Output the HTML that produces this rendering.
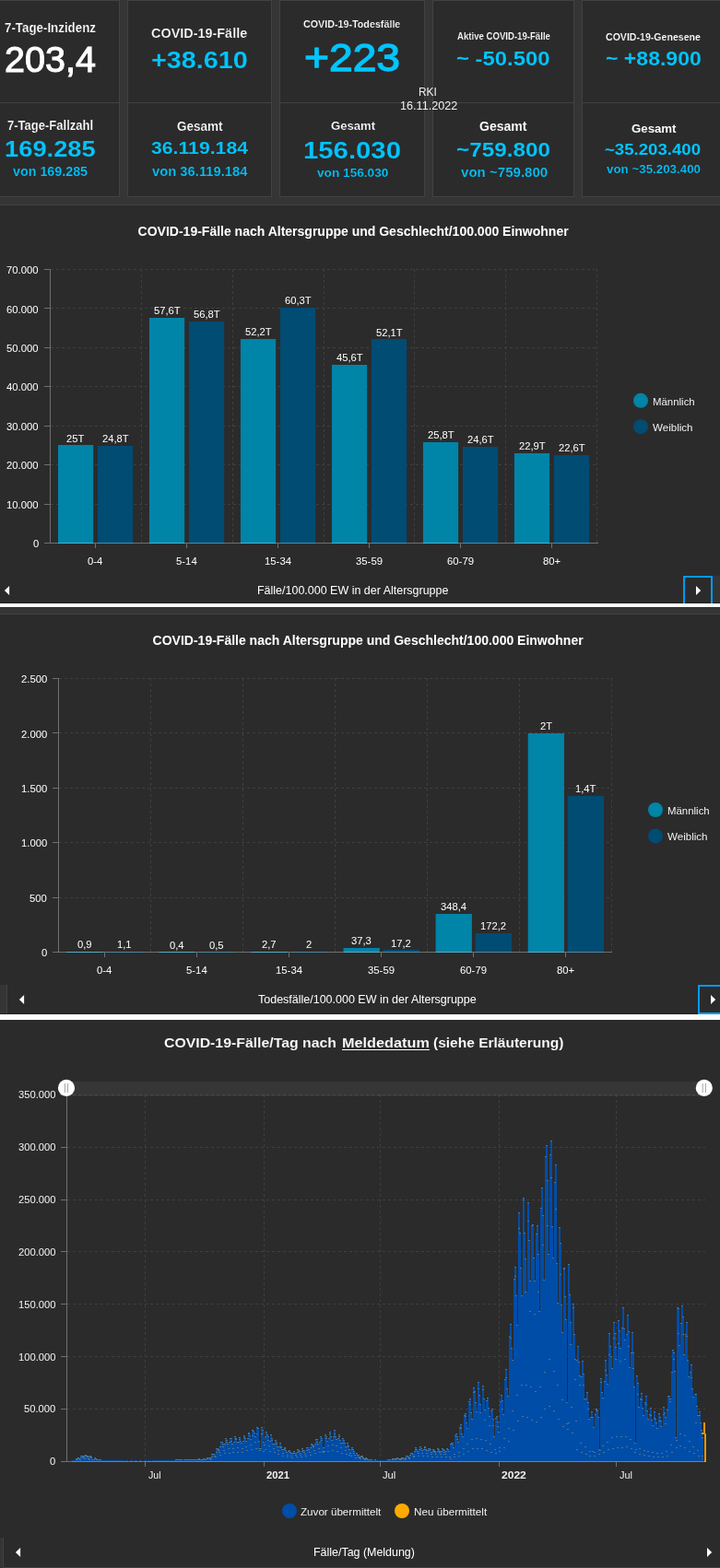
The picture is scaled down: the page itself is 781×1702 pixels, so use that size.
<!DOCTYPE html>
<html lang="de">
<head>
<meta charset="utf-8">
<title>COVID-19 Dashboard</title>
<style>
html,body{margin:0;padding:0;background:#353535;}
body{width:781px;height:1702px;position:relative;overflow:hidden;font-family:"Liberation Sans",sans-serif;}
.t{position:absolute;white-space:nowrap;line-height:1;transform-origin:0 0;}
.b{position:absolute;display:block;}
.panel{position:absolute;left:0;width:781px;background:#2b2b2b;box-sizing:border-box;}
.tile{position:absolute;background:#2b2b2b;border:1px solid #424242;box-sizing:border-box;}
.btn{border:2px solid #009af2;box-sizing:border-box;z-index:2;}
.ttl{margin:0;padding:0;font-weight:400;font-size:inherit;position:static;}
svg .g{stroke:#3f3f3f;stroke-width:1;stroke-dasharray:3 3;fill:none;shape-rendering:crispEdges;}
svg .a{stroke:#ffffff;stroke-opacity:0.33;stroke-width:1;fill:none;shape-rendering:crispEdges;}
svg .a2{stroke:#ffffff;stroke-opacity:0.33;stroke-width:1;fill:none;shape-rendering:crispEdges;}
</style>
</head>
<body>
<section class="tiles">
<div class="tile" style="left:-30px;top:0;width:160px;height:112px"></div>
<div class="tile" style="left:-30px;top:111px;width:160px;height:103px"></div>
<div class="tile" style="left:138px;top:0;width:157px;height:112px"></div>
<div class="tile" style="left:138px;top:111px;width:157px;height:103px"></div>
<div class="tile" style="left:303px;top:0;width:158px;height:112px"></div>
<div class="tile" style="left:303px;top:111px;width:158px;height:103px"></div>
<div class="tile" style="left:469px;top:0;width:154px;height:112px"></div>
<div class="tile" style="left:469px;top:111px;width:154px;height:103px"></div>
<div class="tile" style="left:631px;top:0;width:160px;height:112px"></div>
<div class="tile" style="left:631px;top:111px;width:160px;height:103px"></div>
<div class="t" style="left:5.00px;top:23.07px;font-size:14.10px;color:#ffffff;font-weight:700;-webkit-text-stroke:0.23px #2b2b2b;transform:scaleX(0.9456);">7-Tage-Inzidenz</div>
<div class="t" style="left:5.00px;top:44.83px;font-size:39.53px;color:#ffffff;-webkit-text-stroke:1.11px #ffffff;">203,4</div>
<div class="t" style="left:8.30px;top:130.29px;font-size:13.95px;color:#ffffff;font-weight:700;-webkit-text-stroke:0.22px #2b2b2b;transform:scaleX(0.9343);">7-Tage-Fallzahl</div>
<div class="t" style="left:4.60px;top:150.23px;font-size:24.42px;color:#00c5ff;font-weight:700;-webkit-text-stroke:0.10px #2b2b2b;transform:scaleX(1.1193);">169.285</div>
<div class="t" style="left:14.10px;top:179.34px;font-size:14.24px;color:#00c5ff;font-weight:700;-webkit-text-stroke:0.23px #2b2b2b;transform:scaleX(1.0042);">von 169.285</div>
<div class="t" style="left:164.20px;top:28.80px;font-size:14.53px;color:#ffffff;font-weight:700;-webkit-text-stroke:0.23px #2b2b2b;transform:scaleX(0.9933);">COVID-19-Fälle</div>
<div class="t" style="left:163.80px;top:53.44px;font-size:25.00px;color:#00c5ff;font-weight:700;-webkit-text-stroke:0.10px #2b2b2b;transform:scaleX(1.1518);">+38.610</div>
<div class="t" style="left:192.00px;top:129.74px;font-size:14.24px;color:#ffffff;font-weight:700;-webkit-text-stroke:0.23px #2b2b2b;transform:scaleX(0.9493);">Gesamt</div>
<div class="t" style="left:163.70px;top:152.21px;font-size:18.90px;color:#00c5ff;font-weight:700;-webkit-text-stroke:0.08px #2b2b2b;transform:scaleX(1.1226);">36.119.184</div>
<div class="t" style="left:165.00px;top:179.34px;font-size:14.24px;color:#00c5ff;font-weight:700;-webkit-text-stroke:0.23px #2b2b2b;transform:scaleX(1.0373);">von 36.119.184</div>
<div class="t" style="left:329.20px;top:20.33px;font-size:11.77px;color:#ffffff;font-weight:700;-webkit-text-stroke:0.19px #2b2b2b;transform:scaleX(0.9119);">COVID-19-Todesfälle</div>
<div class="t" style="left:329.80px;top:41.33px;font-size:43.31px;color:#00c5ff;-webkit-text-stroke:1.30px #00c5ff;transform:scaleX(1.0662);">+223</div>
<div class="t" style="left:358.60px;top:129.66px;font-size:13.52px;color:#ffffff;font-weight:700;-webkit-text-stroke:0.22px #2b2b2b;transform:scaleX(0.9681);">Gesamt</div>
<div class="t" style="left:328.60px;top:149.85px;font-size:26.16px;color:#00c5ff;font-weight:700;-webkit-text-stroke:0.10px #2b2b2b;transform:scaleX(1.1208);">156.030</div>
<div class="t" style="left:343.60px;top:180.93px;font-size:13.08px;color:#00c5ff;font-weight:700;-webkit-text-stroke:0.21px #2b2b2b;transform:scaleX(1.0435);">von 156.030</div>
<div class="t" style="left:496.10px;top:34.32px;font-size:10.61px;color:#ffffff;font-weight:700;-webkit-text-stroke:0.17px #2b2b2b;transform:scaleX(0.9054);">Aktive COVID-19-Fälle</div>
<div class="t" style="left:495.30px;top:52.70px;font-size:22.09px;color:#00c5ff;font-weight:700;-webkit-text-stroke:0.09px #2b2b2b;transform:scaleX(1.0802);">~ -50.500</div>
<div class="t" style="left:520.40px;top:130.79px;font-size:13.95px;color:#ffffff;font-weight:700;-webkit-text-stroke:0.06px #2b2b2b;transform:scaleX(1.0082);">Gesamt</div>
<div class="t" style="left:494.80px;top:151.55px;font-size:22.38px;color:#00c5ff;font-weight:700;-webkit-text-stroke:0.09px #2b2b2b;transform:scaleX(1.0852);">~759.800</div>
<div class="t" style="left:499.50px;top:180.03px;font-size:14.97px;color:#00c5ff;font-weight:700;-webkit-text-stroke:0.24px #2b2b2b;transform:scaleX(1.0061);">von ~759.800</div>
<div class="t" style="left:657.00px;top:35.76px;font-size:10.32px;color:#ffffff;font-weight:700;-webkit-text-stroke:0.17px #2b2b2b;transform:scaleX(1.0262);">COVID-19-Genesene</div>
<div class="t" style="left:656.80px;top:53.44px;font-size:21.22px;color:#00c5ff;font-weight:700;-webkit-text-stroke:0.08px #2b2b2b;transform:scaleX(1.0860);">~ +88.900</div>
<div class="t" style="left:684.50px;top:133.16px;font-size:13.52px;color:#ffffff;font-weight:700;-webkit-text-stroke:0.05px #2b2b2b;transform:scaleX(0.9782);">Gesamt</div>
<div class="t" style="left:656.40px;top:153.98px;font-size:17.15px;color:#00c5ff;font-weight:700;transform:scaleX(1.0860);">~35.203.400</div>
<div class="t" style="left:658.00px;top:177.23px;font-size:13.08px;color:#00c5ff;font-weight:700;-webkit-text-stroke:0.21px #2b2b2b;transform:scaleX(1.0199);">von ~35.203.400</div>
<div class="t" style="left:454.30px;top:92.54px;font-size:13.30px;color:#f0f0f0;transform:scaleX(0.8931);">RKI</div>
<div class="t" style="left:434.00px;top:108.34px;font-size:13.30px;color:#f0f0f0;transform:scaleX(0.9500);">16.11.2022</div>
</section>
<section class="panel" style="top:222px;height:433px;border-top:1px solid #424242"></section>
<div class="b" style="left:773px;top:625px;width:8px;height:30px;background:#353535;"></div>
<svg class="b" style="left:0;top:222px" width="781" height="440" viewBox="0 222 781 440"><line x1="55" x2="649" y1="547.5" y2="547.5" class="g"/><line x1="55" x2="649" y1="504.5" y2="504.5" class="g"/><line x1="55" x2="649" y1="462.5" y2="462.5" class="g"/><line x1="55" x2="649" y1="419.5" y2="419.5" class="g"/><line x1="55" x2="649" y1="377.5" y2="377.5" class="g"/><line x1="55" x2="649" y1="334.5" y2="334.5" class="g"/><line x1="55" x2="649" y1="292.5" y2="292.5" class="g"/><line x1="153.5" x2="153.5" y1="292" y2="589" class="g"/><line x1="252.5" x2="252.5" y1="292" y2="589" class="g"/><line x1="351.5" x2="351.5" y1="292" y2="589" class="g"/><line x1="449.5" x2="449.5" y1="292" y2="589" class="g"/><line x1="548.5" x2="548.5" y1="292" y2="589" class="g"/><line x1="647.5" x2="647.5" y1="292" y2="589" class="g"/><rect x="62.99" y="483.00" width="38.20" height="107.00" fill="#0084a8"/><rect x="105.99" y="484.00" width="38.20" height="106.00" fill="#004c73"/><rect x="161.97" y="345.00" width="38.20" height="245.00" fill="#0084a8"/><rect x="204.97" y="349.00" width="38.20" height="241.00" fill="#004c73"/><rect x="260.96" y="368.00" width="38.20" height="222.00" fill="#0084a8"/><rect x="303.96" y="334.00" width="38.20" height="256.00" fill="#004c73"/><rect x="359.94" y="396.00" width="38.20" height="194.00" fill="#0084a8"/><rect x="402.94" y="368.00" width="38.20" height="222.00" fill="#004c73"/><rect x="458.93" y="480.00" width="38.20" height="110.00" fill="#0084a8"/><rect x="501.93" y="485.00" width="38.20" height="105.00" fill="#004c73"/><rect x="557.91" y="492.00" width="38.20" height="98.00" fill="#0084a8"/><rect x="600.91" y="494.00" width="38.20" height="96.00" fill="#004c73"/><line x1="48" x2="54" y1="589.5" y2="589.5" class="a"/><line x1="48" x2="54" y1="547.5" y2="547.5" class="a"/><line x1="48" x2="54" y1="504.5" y2="504.5" class="a"/><line x1="48" x2="54" y1="462.5" y2="462.5" class="a"/><line x1="48" x2="54" y1="419.5" y2="419.5" class="a"/><line x1="48" x2="54" y1="377.5" y2="377.5" class="a"/><line x1="48" x2="54" y1="334.5" y2="334.5" class="a"/><line x1="48" x2="54" y1="292.5" y2="292.5" class="a"/><line x1="54.5" x2="54.5" y1="292" y2="589" class="a"/><line x1="54" x2="649" y1="589.5" y2="589.5" class="a"/><line x1="103.5" x2="103.5" y1="590" y2="595" class="a"/><line x1="202.5" x2="202.5" y1="590" y2="595" class="a"/><line x1="301.5" x2="301.5" y1="590" y2="595" class="a"/><line x1="400.5" x2="400.5" y1="590" y2="595" class="a"/><line x1="499.5" x2="499.5" y1="590" y2="595" class="a"/><line x1="598.5" x2="598.5" y1="590" y2="595" class="a"/><circle cx="695" cy="434.8" r="8" fill="#0084a8"/><circle cx="695" cy="463.2" r="8" fill="#004c73"/></svg>
<div class="t" style="left:149.60px;top:243.75px;font-size:14.00px;color:#ffffff;font-weight:700;">COVID-19-Fälle nach Altersgruppe und Geschlecht/100.000 Einwohner</div>
<div class="t" style="left:35.53px;top:585.19px;font-size:11.00px;color:#ffffff;transform:scaleX(1.0250);">0</div>
<div class="t" style="left:7.31px;top:542.76px;font-size:11.00px;color:#ffffff;transform:scaleX(1.0250);">10.000</div>
<div class="t" style="left:7.31px;top:500.33px;font-size:11.00px;color:#ffffff;transform:scaleX(1.0250);">20.000</div>
<div class="t" style="left:7.31px;top:457.90px;font-size:11.00px;color:#ffffff;transform:scaleX(1.0250);">30.000</div>
<div class="t" style="left:7.31px;top:415.47px;font-size:11.00px;color:#ffffff;transform:scaleX(1.0250);">40.000</div>
<div class="t" style="left:7.31px;top:373.05px;font-size:11.00px;color:#ffffff;transform:scaleX(1.0250);">50.000</div>
<div class="t" style="left:7.31px;top:330.62px;font-size:11.00px;color:#ffffff;transform:scaleX(1.0250);">60.000</div>
<div class="t" style="left:7.31px;top:288.19px;font-size:11.00px;color:#ffffff;transform:scaleX(1.0250);">70.000</div>
<div class="t" style="left:95.41px;top:603.89px;font-size:11.00px;color:#ffffff;transform:scaleX(1.0300);">0-4</div>
<div class="t" style="left:72.43px;top:470.52px;font-size:11.00px;color:#ffffff;transform:scaleX(1.0200);">25T</div>
<div class="t" style="left:110.75px;top:471.37px;font-size:11.00px;color:#ffffff;transform:scaleX(1.0200);">24,8T</div>
<div class="t" style="left:191.24px;top:603.89px;font-size:11.00px;color:#ffffff;transform:scaleX(1.0300);">5-14</div>
<div class="t" style="left:166.73px;top:332.20px;font-size:11.00px;color:#ffffff;transform:scaleX(1.0200);">57,6T</div>
<div class="t" style="left:209.73px;top:335.59px;font-size:11.00px;color:#ffffff;transform:scaleX(1.0200);">56,8T</div>
<div class="t" style="left:287.07px;top:603.89px;font-size:11.00px;color:#ffffff;transform:scaleX(1.0300);">15-34</div>
<div class="t" style="left:265.71px;top:355.11px;font-size:11.00px;color:#ffffff;transform:scaleX(1.0200);">52,2T</div>
<div class="t" style="left:308.71px;top:320.74px;font-size:11.00px;color:#ffffff;transform:scaleX(1.0200);">60,3T</div>
<div class="t" style="left:386.05px;top:603.89px;font-size:11.00px;color:#ffffff;transform:scaleX(1.0300);">35-59</div>
<div class="t" style="left:364.70px;top:383.11px;font-size:11.00px;color:#ffffff;transform:scaleX(1.0200);">45,6T</div>
<div class="t" style="left:407.70px;top:355.54px;font-size:11.00px;color:#ffffff;transform:scaleX(1.0200);">52,1T</div>
<div class="t" style="left:485.03px;top:603.89px;font-size:11.00px;color:#ffffff;transform:scaleX(1.0300);">60-79</div>
<div class="t" style="left:463.68px;top:467.12px;font-size:11.00px;color:#ffffff;transform:scaleX(1.0200);">25,8T</div>
<div class="t" style="left:506.68px;top:472.21px;font-size:11.00px;color:#ffffff;transform:scaleX(1.0200);">24,6T</div>
<div class="t" style="left:588.90px;top:603.89px;font-size:11.00px;color:#ffffff;transform:scaleX(1.0300);">80+</div>
<div class="t" style="left:562.66px;top:479.43px;font-size:11.00px;color:#ffffff;transform:scaleX(1.0200);">22,9T</div>
<div class="t" style="left:605.66px;top:480.70px;font-size:11.00px;color:#ffffff;transform:scaleX(1.0200);">22,6T</div>
<div class="t" style="left:707.70px;top:430.56px;font-size:10.80px;color:#f0f0f0;transform:scaleX(1.0573);">Männlich</div>
<div class="t" style="left:707.50px;top:458.86px;font-size:10.80px;color:#f0f0f0;transform:scaleX(1.0709);">Weiblich</div>
<div class="t" style="left:278.80px;top:634.30px;font-size:13.00px;color:#ffffff;transform:scaleX(0.9599);">Fälle/100.000 EW in der Altersgruppe</div>
<svg class="b" style="left:4px;top:635px" width="8" height="12" viewBox="0 0 8 12"><path d="M0.9 6 L6.1 0.9 L6.1 11.1 Z" fill="#fff"/></svg>
<div class="b btn" style="left:741px;top:625px;width:32px;height:32px"></div>
<svg class="b" style="left:753px;top:635px;z-index:3" width="8" height="12" viewBox="0 0 8 12"><path d="M7.2 6 L2.0 0.9 L2.0 11.1 Z" fill="#fff"/></svg>
<div class="b" style="left:0px;top:654px;width:781px;height:1px;background:#202020;"></div>
<div class="b" style="left:0px;top:655px;width:781px;height:4px;background:#ffffff;z-index:4;"></div>
<div class="b" style="left:0px;top:659px;width:781px;height:1px;background:#262626;"></div>
<section class="panel" style="top:666px;height:435px;border-top:1px solid #424242"></section>
<div class="b" style="left:0px;top:1069px;width:7px;height:32px;background:#353535;"></div>
<div class="b" style="left:7px;top:1069px;width:1px;height:32px;background:#424242;"></div>
<svg class="b" style="left:0;top:667px" width="781" height="440" viewBox="0 667 781 440"><line x1="64" x2="664" y1="974.5" y2="974.5" class="g"/><line x1="64" x2="664" y1="914.5" y2="914.5" class="g"/><line x1="64" x2="664" y1="855.5" y2="855.5" class="g"/><line x1="64" x2="664" y1="795.5" y2="795.5" class="g"/><line x1="64" x2="664" y1="736.5" y2="736.5" class="g"/><line x1="163.5" x2="163.5" y1="736" y2="1033" class="g"/><line x1="263.5" x2="263.5" y1="736" y2="1033" class="g"/><line x1="363.5" x2="363.5" y1="736" y2="1033" class="g"/><line x1="463.5" x2="463.5" y1="736" y2="1033" class="g"/><line x1="563.5" x2="563.5" y1="736" y2="1033" class="g"/><line x1="663.5" x2="663.5" y1="736" y2="1033" class="g"/><rect x="72.33" y="1033.00" width="39.30" height="1.00" fill="#0084a8"/><rect x="115.43" y="1033.00" width="39.30" height="1.00" fill="#004c73"/><rect x="172.40" y="1033.00" width="39.30" height="1.00" fill="#0084a8"/><rect x="215.50" y="1033.00" width="39.30" height="1.00" fill="#004c73"/><rect x="272.47" y="1033.00" width="39.30" height="1.00" fill="#0084a8"/><rect x="315.57" y="1033.00" width="39.30" height="1.00" fill="#004c73"/><rect x="372.53" y="1029.00" width="39.30" height="5.00" fill="#0084a8"/><rect x="415.63" y="1031.00" width="39.30" height="3.00" fill="#004c73"/><rect x="472.60" y="992.00" width="39.30" height="42.00" fill="#0084a8"/><rect x="515.70" y="1013.00" width="39.30" height="21.00" fill="#004c73"/><rect x="572.67" y="796.00" width="39.30" height="238.00" fill="#0084a8"/><rect x="615.77" y="864.00" width="39.30" height="170.00" fill="#004c73"/><line x1="57" x2="63" y1="1033.5" y2="1033.5" class="a"/><line x1="57" x2="63" y1="974.5" y2="974.5" class="a"/><line x1="57" x2="63" y1="914.5" y2="914.5" class="a"/><line x1="57" x2="63" y1="855.5" y2="855.5" class="a"/><line x1="57" x2="63" y1="795.5" y2="795.5" class="a"/><line x1="57" x2="63" y1="736.5" y2="736.5" class="a"/><line x1="63.5" x2="63.5" y1="736" y2="1033" class="a"/><line x1="63" x2="664" y1="1033.5" y2="1033.5" class="a"/><line x1="113.5" x2="113.5" y1="1034" y2="1039" class="a"/><line x1="213.5" x2="213.5" y1="1034" y2="1039" class="a"/><line x1="313.5" x2="313.5" y1="1034" y2="1039" class="a"/><line x1="413.5" x2="413.5" y1="1034" y2="1039" class="a"/><line x1="513.5" x2="513.5" y1="1034" y2="1039" class="a"/><line x1="613.5" x2="613.5" y1="1034" y2="1039" class="a"/><circle cx="711" cy="879.0" r="8" fill="#0084a8"/><circle cx="711" cy="907.4" r="8" fill="#004c73"/></svg>
<div class="t" style="left:165.60px;top:687.75px;font-size:14.00px;color:#ffffff;font-weight:700;">COVID-19-Fälle nach Altersgruppe und Geschlecht/100.000 Einwohner</div>
<div class="t" style="left:44.53px;top:1029.19px;font-size:11.00px;color:#ffffff;transform:scaleX(1.0250);">0</div>
<div class="t" style="left:31.99px;top:969.79px;font-size:11.00px;color:#ffffff;transform:scaleX(1.0250);">500</div>
<div class="t" style="left:22.59px;top:910.39px;font-size:11.00px;color:#ffffff;transform:scaleX(1.0250);">1.000</div>
<div class="t" style="left:22.59px;top:850.99px;font-size:11.00px;color:#ffffff;transform:scaleX(1.0250);">1.500</div>
<div class="t" style="left:22.59px;top:791.59px;font-size:11.00px;color:#ffffff;transform:scaleX(1.0250);">2.000</div>
<div class="t" style="left:22.59px;top:732.19px;font-size:11.00px;color:#ffffff;transform:scaleX(1.0250);">2.500</div>
<div class="t" style="left:105.35px;top:1048.19px;font-size:11.00px;color:#ffffff;transform:scaleX(1.0300);">0-4</div>
<div class="t" style="left:84.19px;top:1020.48px;font-size:11.00px;color:#ffffff;transform:scaleX(1.0200);">0,9</div>
<div class="t" style="left:127.29px;top:1020.46px;font-size:11.00px;color:#ffffff;transform:scaleX(1.0200);">1,1</div>
<div class="t" style="left:202.26px;top:1048.19px;font-size:11.00px;color:#ffffff;transform:scaleX(1.0300);">5-14</div>
<div class="t" style="left:184.25px;top:1020.54px;font-size:11.00px;color:#ffffff;transform:scaleX(1.0200);">0,4</div>
<div class="t" style="left:227.35px;top:1020.53px;font-size:11.00px;color:#ffffff;transform:scaleX(1.0200);">0,5</div>
<div class="t" style="left:299.18px;top:1048.19px;font-size:11.00px;color:#ffffff;transform:scaleX(1.0300);">15-34</div>
<div class="t" style="left:284.32px;top:1020.27px;font-size:11.00px;color:#ffffff;transform:scaleX(1.0200);">2,7</div>
<div class="t" style="left:332.10px;top:1020.35px;font-size:11.00px;color:#ffffff;transform:scaleX(1.0200);">2</div>
<div class="t" style="left:399.24px;top:1048.19px;font-size:11.00px;color:#ffffff;transform:scaleX(1.0300);">35-59</div>
<div class="t" style="left:381.27px;top:1016.16px;font-size:11.00px;color:#ffffff;transform:scaleX(1.0200);">37,3</div>
<div class="t" style="left:424.37px;top:1018.55px;font-size:11.00px;color:#ffffff;transform:scaleX(1.0200);">17,2</div>
<div class="t" style="left:499.31px;top:1048.19px;font-size:11.00px;color:#ffffff;transform:scaleX(1.0300);">60-79</div>
<div class="t" style="left:478.21px;top:979.20px;font-size:11.00px;color:#ffffff;transform:scaleX(1.0200);">348,4</div>
<div class="t" style="left:521.31px;top:1000.13px;font-size:11.00px;color:#ffffff;transform:scaleX(1.0200);">172,2</div>
<div class="t" style="left:604.26px;top:1048.19px;font-size:11.00px;color:#ffffff;transform:scaleX(1.0300);">80+</div>
<div class="t" style="left:585.77px;top:782.99px;font-size:11.00px;color:#ffffff;transform:scaleX(1.0200);">2T</div>
<div class="t" style="left:624.19px;top:850.94px;font-size:11.00px;color:#ffffff;transform:scaleX(1.0200);">1,4T</div>
<div class="t" style="left:723.70px;top:874.76px;font-size:10.80px;color:#f0f0f0;transform:scaleX(1.0573);">Männlich</div>
<div class="t" style="left:723.50px;top:903.06px;font-size:10.80px;color:#f0f0f0;transform:scaleX(1.0709);">Weiblich</div>
<div class="t" style="left:280.00px;top:1078.30px;font-size:13.00px;color:#ffffff;transform:scaleX(0.9605);">Todesfälle/100.000 EW in der Altersgruppe</div>
<svg class="b" style="left:20px;top:1079px" width="8" height="12" viewBox="0 0 8 12"><path d="M0.9 6 L6.1 0.9 L6.1 11.1 Z" fill="#fff"/></svg>
<div class="b btn" style="left:757px;top:1069px;width:32px;height:32px"></div>
<svg class="b" style="left:769px;top:1079px;z-index:3" width="8" height="12" viewBox="0 0 8 12"><path d="M7.2 6 L2.0 0.9 L2.0 11.1 Z" fill="#fff"/></svg>
<div class="b" style="left:0px;top:1100px;width:781px;height:1px;background:#202020;"></div>
<div class="b" style="left:0px;top:1101px;width:781px;height:6px;background:#ffffff;z-index:4;"></div>
<div class="b" style="left:0px;top:1107px;width:781px;height:1px;background:#222222;"></div>
<section class="panel" style="top:1107px;height:595px"></section>
<div class="b" style="left:0px;top:1669px;width:3px;height:33px;background:#353535;"></div>
<div class="b" style="left:3px;top:1669px;width:1px;height:33px;background:#424242;"></div>
<div class="b" style="left:4px;top:1701px;width:777px;height:1px;background:#424242;"></div>
<svg class="b" style="left:0;top:1107px" width="781" height="595" viewBox="0 1107 781 595"><line x1="73" x2="765" y1="1529.5" y2="1529.5" class="g"/><line x1="73" x2="765" y1="1472.5" y2="1472.5" class="g"/><line x1="73" x2="765" y1="1415.5" y2="1415.5" class="g"/><line x1="73" x2="765" y1="1358.5" y2="1358.5" class="g"/><line x1="73" x2="765" y1="1302.5" y2="1302.5" class="g"/><line x1="73" x2="765" y1="1245.5" y2="1245.5" class="g"/><line x1="73" x2="765" y1="1188.5" y2="1188.5" class="g"/><line x1="66" x2="72" y1="1586.5" y2="1586.5" class="a"/><line x1="66" x2="72" y1="1529.5" y2="1529.5" class="a"/><line x1="66" x2="72" y1="1472.5" y2="1472.5" class="a"/><line x1="66" x2="72" y1="1415.5" y2="1415.5" class="a"/><line x1="66" x2="72" y1="1358.5" y2="1358.5" class="a"/><line x1="66" x2="72" y1="1302.5" y2="1302.5" class="a"/><line x1="66" x2="72" y1="1245.5" y2="1245.5" class="a"/><line x1="66" x2="72" y1="1188.5" y2="1188.5" class="a"/><line x1="157.5" x2="157.5" y1="1188" y2="1586" class="g"/><line x1="286.5" x2="286.5" y1="1188" y2="1586" class="g"/><line x1="412.5" x2="412.5" y1="1188" y2="1586" class="g"/><line x1="541.5" x2="541.5" y1="1188" y2="1586" class="g"/><line x1="668.5" x2="668.5" y1="1188" y2="1586" class="g"/><path d="M78 1585h4V1587h-4zM82 1583h2V1587h-2zM84 1582h2V1587h-2zM86 1583h1V1587h-1zM87 1580h5V1587h-5zM92 1579h2V1587h-2zM94 1580h2V1587h-2zM96 1581h1V1587h-1zM97 1580h2V1587h-2zM99 1581h1V1587h-1zM100 1584h2V1587h-2zM102 1582h2V1587h-2zM104 1583h1V1587h-1zM105 1584h5V1587h-5zM110 1585h25V1587h-25zM136 1585h3V1587h-3zM141 1585h3V1587h-3zM146 1585h3V1587h-3zM151 1585h3V1587h-3zM156 1585h3V1587h-3zM160 1585h4V1587h-4zM165 1585h25V1587h-25zM190 1584h8V1587h-8zM198 1585h1V1587h-1zM199 1584h16V1587h-16zM215 1583h2V1587h-2zM217 1584h3V1587h-3zM220 1583h3V1587h-3zM223 1584h1V1587h-1zM224 1582h5V1587h-5zM229 1578h5V1587h-5zM234 1572h3V1587h-3zM237 1573h1V1587h-1zM238 1570h1V1587h-1zM239 1565h3V1587h-3zM242 1567h2V1587h-2zM244 1561h2V1587h-2zM246 1563h1V1587h-1zM247 1567h1V1587h-1zM248 1565h1V1587h-1zM249 1561h3V1587h-3zM252 1567h1V1587h-1zM253 1565h1V1587h-1zM254 1559h2V1587h-2zM256 1561h1V1587h-1zM257 1565h2V1587h-2zM259 1560h2V1587h-2zM261 1564h1V1587h-1zM262 1566h1V1587h-1zM263 1564h1V1587h-1zM264 1558h2V1587h-2zM266 1561h1V1587h-1zM267 1564h1V1587h-1zM268 1561h1V1587h-1zM269 1555h2V1587h-2zM271 1558h1V1587h-1zM272 1562h1V1587h-1zM273 1552h2V1587h-2zM275 1553h1V1587h-1zM276 1555h1V1587h-1zM277 1559h1V1587h-1zM278 1549h2V1587h-2zM280 1550h1V1587h-1zM281 1564h1V1587h-1zM282 1572h1V1587h-1zM283 1549h2V1587h-2zM285 1552h1V1587h-1zM286 1565h1V1587h-1zM287 1559h1V1587h-1zM288 1554h2V1587h-2zM290 1557h1V1587h-1zM291 1559h1V1587h-1zM292 1564h1V1587h-1zM293 1557h2V1587h-2zM295 1561h1V1587h-1zM296 1567h2V1587h-2zM298 1563h2V1587h-2zM300 1565h1V1587h-1zM301 1570h2V1587h-2zM303 1566h2V1587h-2zM305 1570h1V1587h-1zM306 1573h2V1587h-2zM308 1571h2V1587h-2zM310 1574h1V1587h-1zM311 1576h1V1587h-1zM312 1575h1V1587h-1zM313 1574h2V1587h-2zM315 1576h1V1587h-1zM316 1577h2V1587h-2zM318 1575h2V1587h-2zM320 1577h2V1587h-2zM322 1573h2V1587h-2zM324 1574h1V1587h-1zM325 1575h1V1587h-1zM326 1577h1V1587h-1zM327 1572h2V1587h-2zM329 1574h2V1587h-2zM331 1576h1V1587h-1zM332 1571h3V1587h-3zM335 1573h1V1587h-1zM336 1571h1V1587h-1zM337 1567h2V1587h-2zM339 1568h1V1587h-1zM340 1569h1V1587h-1zM341 1567h1V1587h-1zM342 1562h3V1587h-3zM345 1567h1V1587h-1zM346 1565h1V1587h-1zM347 1559h2V1587h-2zM349 1561h1V1587h-1zM350 1571h2V1587h-2zM352 1557h2V1587h-2zM354 1559h1V1587h-1zM355 1564h1V1587h-1zM356 1561h1V1587h-1zM357 1554h2V1587h-2zM359 1559h1V1587h-1zM360 1563h1V1587h-1zM361 1559h1V1587h-1zM362 1552h2V1587h-2zM364 1559h1V1587h-1zM365 1562h1V1587h-1zM366 1561h1V1587h-1zM367 1557h2V1587h-2zM369 1563h1V1587h-1zM370 1566h1V1587h-1zM371 1561h2V1587h-2zM373 1563h1V1587h-1zM374 1566h1V1587h-1zM375 1570h1V1587h-1zM376 1566h2V1587h-2zM378 1569h1V1587h-1zM379 1573h2V1587h-2zM381 1571h2V1587h-2zM383 1573h1V1587h-1zM384 1575h1V1587h-1zM385 1579h1V1587h-1zM386 1577h2V1587h-2zM388 1579h2V1587h-2zM390 1581h1V1587h-1zM391 1580h3V1587h-3zM394 1582h1V1587h-1zM395 1583h1V1587h-1zM396 1582h2V1587h-2zM398 1583h1V1587h-1zM399 1584h5V1587h-5zM404 1585h2V1587h-2zM406 1584h2V1587h-2zM408 1585h12V1587h-12zM420 1584h5V1587h-5zM425 1583h5V1587h-5zM430 1582h2V1587h-2zM432 1583h3V1587h-3zM435 1582h3V1587h-3zM438 1583h1V1587h-1zM439 1582h1V1587h-1zM440 1580h3V1587h-3zM443 1581h1V1587h-1zM444 1579h1V1587h-1zM445 1577h3V1587h-3zM448 1578h1V1587h-1zM449 1575h1V1587h-1zM450 1571h2V1587h-2zM452 1573h1V1587h-1zM453 1575h1V1587h-1zM454 1573h1V1587h-1zM455 1570h2V1587h-2zM457 1572h1V1587h-1zM458 1574h1V1587h-1zM459 1573h1V1587h-1zM460 1570h2V1587h-2zM462 1573h1V1587h-1zM463 1574h1V1587h-1zM464 1572h3V1587h-3zM467 1573h1V1587h-1zM468 1576h1V1587h-1zM469 1573h2V1587h-2zM471 1574h1V1587h-1zM472 1575h1V1587h-1zM473 1576h1V1587h-1zM474 1572h2V1587h-2zM476 1573h1V1587h-1zM477 1575h2V1587h-2zM479 1572h2V1587h-2zM481 1573h1V1587h-1zM482 1574h1V1587h-1zM483 1575h1V1587h-1zM484 1572h2V1587h-2zM486 1573h1V1587h-1zM487 1575h1V1587h-1zM488 1567h1V1587h-1zM489 1566h3V1587h-3zM492 1571h1V1587h-1zM493 1558h1V1587h-1zM494 1556h2V1587h-2zM496 1559h1V1587h-1zM497 1565h1V1587h-1zM498 1549h1V1587h-1zM499 1546h2V1587h-2zM501 1556h1V1587h-1zM502 1559h1V1587h-1zM503 1536h1V1587h-1zM504 1534h2V1587h-2zM506 1544h1V1587h-1zM507 1550h1V1587h-1zM508 1521h1V1587h-1zM509 1518h2V1587h-2zM511 1533h1V1587h-1zM512 1540h1V1587h-1zM513 1506h2V1587h-2zM515 1510h1V1587h-1zM516 1522h1V1587h-1zM517 1532h1V1587h-1zM518 1500h2V1587h-2zM520 1514h1V1587h-1zM521 1524h1V1587h-1zM522 1533h1V1587h-1zM523 1504h2V1587h-2zM525 1518h1V1587h-1zM526 1530h1V1587h-1zM527 1520h1V1587h-1zM528 1517h2V1587h-2zM530 1528h1V1587h-1zM531 1537h1V1587h-1zM532 1531h1V1587h-1zM533 1529h2V1587h-2zM535 1540h1V1587h-1zM536 1559h1V1587h-1zM537 1539h1V1587h-1zM538 1537h2V1587h-2zM540 1543h1V1587h-1zM541 1554h1V1587h-1zM542 1521h1V1587h-1zM543 1514h2V1587h-2zM545 1520h1V1587h-1zM546 1535h1V1587h-1zM547 1497h1V1587h-1zM548 1486h2V1587h-2zM550 1507h1V1587h-1zM551 1515h1V1587h-1zM552 1450h1V1587h-1zM553 1437h2V1587h-2zM555 1463h1V1587h-1zM556 1476h1V1587h-1zM557 1388h1V1587h-1zM558 1375h2V1587h-2zM560 1406h1V1587h-1zM561 1438h1V1587h-1zM562 1316h2V1587h-2zM564 1338h1V1587h-1zM565 1376h1V1587h-1zM566 1406h1V1587h-1zM567 1300h2V1587h-2zM569 1338h1V1587h-1zM570 1366h1V1587h-1zM571 1402h1V1587h-1zM572 1305h2V1587h-2zM574 1346h1V1587h-1zM575 1390h1V1587h-1zM576 1330h1V1587h-1zM577 1329h2V1587h-2zM579 1365h1V1587h-1zM580 1390h1V1587h-1zM581 1339h1V1587h-1zM582 1330h2V1587h-2zM584 1361h1V1587h-1zM585 1423h1V1587h-1zM586 1311h1V1587h-1zM587 1289h2V1587h-2zM589 1319h1V1587h-1zM590 1389h1V1587h-1zM591 1255h1V1587h-1zM592 1243h2V1587h-2zM594 1281h1V1587h-1zM595 1361h1V1587h-1zM596 1253h1V1587h-1zM597 1238h2V1587h-2zM599 1331h1V1587h-1zM600 1365h1V1587h-1zM601 1283h1V1587h-1zM602 1264h2V1587h-2zM604 1371h1V1587h-1zM605 1414h1V1587h-1zM606 1332h2V1587h-2zM608 1349h1V1587h-1zM609 1416h1V1587h-1zM610 1446h1V1587h-1zM611 1376h2V1587h-2zM613 1407h1V1587h-1zM614 1432h1V1587h-1zM615 1522h1V1587h-1zM616 1372h2V1587h-2zM618 1405h1V1587h-1zM619 1435h1V1587h-1zM620 1459h1V1587h-1zM621 1415h2V1587h-2zM623 1448h1V1587h-1zM624 1475h1V1587h-1zM625 1476h1V1587h-1zM626 1461h2V1587h-2zM628 1478h1V1587h-1zM629 1493h1V1587h-1zM630 1494h1V1587h-1zM631 1477h2V1587h-2zM633 1491h1V1587h-1zM634 1518h2V1587h-2zM636 1511h2V1587h-2zM638 1522h1V1587h-1zM639 1540h1V1587h-1zM640 1538h1V1587h-1zM641 1532h2V1587h-2zM643 1538h1V1587h-1zM644 1549h1V1587h-1zM645 1535h1V1587h-1zM646 1529h2V1587h-2zM648 1531h1V1587h-1zM649 1538h1V1587h-1zM650 1573h1V1587h-1zM651 1496h2V1587h-2zM653 1511h1V1587h-1zM654 1517h1V1587h-1zM655 1499h1V1587h-1zM656 1476h2V1587h-2zM658 1492h1V1587h-1zM659 1502h1V1587h-1zM660 1447h2V1587h-2zM662 1461h1V1587h-1zM663 1472h1V1587h-1zM664 1485h1V1587h-1zM665 1435h2V1587h-2zM667 1447h1V1587h-1zM668 1462h1V1587h-1zM669 1475h1V1587h-1zM670 1433h2V1587h-2zM672 1444h1V1587h-1zM673 1463h1V1587h-1zM674 1441h1V1587h-1zM675 1419h2V1587h-2zM677 1442h1V1587h-1zM678 1454h1V1587h-1zM679 1448h1V1587h-1zM680 1427h2V1587h-2zM682 1445h1V1587h-1zM683 1484h1V1587h-1zM684 1468h1V1587h-1zM685 1446h2V1587h-2zM687 1468h1V1587h-1zM688 1505h1V1587h-1zM689 1566h1V1587h-1zM690 1493h2V1587h-2zM692 1501h1V1587h-1zM693 1527h1V1587h-1zM694 1518h1V1587h-1zM695 1512h2V1587h-2zM697 1528h1V1587h-1zM698 1536h1V1587h-1zM699 1522h1V1587h-1zM700 1515h2V1587h-2zM702 1531h1V1587h-1zM703 1540h1V1587h-1zM704 1535h1V1587h-1zM705 1528h2V1587h-2zM707 1541h1V1587h-1zM708 1547h1V1587h-1zM709 1532h2V1587h-2zM711 1540h1V1587h-1zM712 1544h1V1587h-1zM713 1550h1V1587h-1zM714 1534h2V1587h-2zM716 1538h1V1587h-1zM717 1542h1V1587h-1zM718 1548h1V1587h-1zM719 1527h2V1587h-2zM721 1533h1V1587h-1zM722 1538h1V1587h-1zM723 1530h1V1587h-1zM724 1515h3V1587h-3zM727 1518h1V1587h-1zM728 1489h1V1587h-1zM729 1465h2V1587h-2zM731 1468h1V1587h-1zM732 1488h1V1587h-1zM733 1560h1V1587h-1zM734 1419h2V1587h-2zM736 1420h1V1587h-1zM737 1460h1V1587h-1zM738 1436h1V1587h-1zM739 1417h2V1587h-2zM741 1429h1V1587h-1zM742 1470h1V1587h-1zM743 1448h1V1587h-1zM744 1435h2V1587h-2zM746 1476h1V1587h-1zM747 1494h1V1587h-1zM748 1489h1V1587h-1zM749 1481h2V1587h-2zM751 1507h1V1587h-1zM752 1516h1V1587h-1zM753 1513h3V1587h-3zM756 1526h1V1587h-1zM757 1536h1V1587h-1zM758 1532h2V1587h-2zM760 1544h1V1587h-1zM761 1552h1V1587h-1zM762 1560h1V1587h-1z" fill="#004da8" shape-rendering="crispEdges"/><path d="M597 1238h2v1h-2zM592 1243h2v1h-2zM596 1253h2v1h-2zM591 1255h2v1h-2zM602 1264h2v1h-2zM597 1278h2v1h-2zM593 1281h2v1h-2zM601 1283h2v1h-2zM587 1289h2v1h-2zM567 1300h2v1h-2zM567 1302h2v1h-2zM572 1305h2v1h-2zM586 1311h2v1h-2zM602 1312h2v1h-2zM562 1316h2v1h-2zM588 1319h2v1h-2zM572 1325h2v1h-2zM577 1329h2v1h-2zM576 1330h2v1h-2zM582 1330h2v1h-2zM593 1330h2v1h-2zM598 1331h2v1h-2zM606 1332h2v1h-2zM562 1333h2v1h-2zM563 1338h2v1h-2zM568 1338h2v1h-2zM581 1339h2v1h-2zM573 1346h2v1h-2zM607 1349h2v1h-2zM588 1351h2v1h-2zM583 1361h2v1h-2zM594 1361h2v1h-2zM578 1365h2v1h-2zM599 1365h2v1h-2zM569 1366h2v1h-2zM603 1371h2v1h-2zM616 1372h2v1h-2zM558 1375h2v1h-2zM564 1376h2v1h-2zM611 1376h2v1h-2zM611 1377h2v1h-2zM607 1383h2v1h-2zM558 1385h2v1h-2zM557 1388h2v1h-2zM589 1389h2v1h-2zM574 1390h2v1h-2zM579 1390h2v1h-2zM569 1402h2v1h-2zM583 1402h2v1h-2zM617 1405h2v1h-2zM559 1406h2v1h-2zM565 1406h2v1h-2zM612 1407h2v1h-2zM604 1414h2v1h-2zM621 1415h2v1h-2zM608 1416h2v1h-2zM739 1417h2v1h-2zM621 1419h2v1h-2zM675 1419h2v1h-2zM734 1419h2v1h-2zM735 1420h2v1h-2zM574 1423h2v1h-2zM584 1423h2v1h-2zM579 1426h2v1h-2zM680 1427h2v1h-2zM740 1429h2v1h-2zM613 1432h2v1h-2zM670 1433h2v1h-2zM618 1435h2v1h-2zM665 1435h2v1h-2zM744 1435h2v1h-2zM738 1436h2v1h-2zM553 1437h2v1h-2zM560 1438h2v1h-2zM674 1441h2v1h-2zM676 1442h2v1h-2zM671 1444h2v1h-2zM681 1445h2v1h-2zM609 1446h2v1h-2zM685 1446h2v1h-2zM660 1447h2v1h-2zM666 1447h2v1h-2zM735 1447h2v1h-2zM622 1448h2v1h-2zM679 1448h2v1h-2zM740 1448h2v1h-2zM743 1448h2v1h-2zM552 1450h2v1h-2zM744 1450h2v1h-2zM553 1452h2v1h-2zM665 1452h2v1h-2zM677 1454h2v1h-2zM670 1458h2v1h-2zM618 1459h2v1h-2zM736 1460h2v1h-2zM626 1461h2v1h-2zM661 1461h2v1h-2zM681 1461h2v1h-2zM667 1462h2v1h-2zM554 1463h2v1h-2zM672 1463h2v1h-2zM729 1465h2v1h-2zM684 1468h4v1h-4zM730 1468h2v1h-2zM660 1470h2v1h-2zM741 1470h2v1h-2zM662 1472h2v1h-2zM595 1475h2v1h-2zM623 1475h2v1h-2zM667 1475h2v1h-2zM677 1475h2v1h-2zM730 1475h2v1h-2zM555 1476h2v1h-2zM625 1476h2v1h-2zM656 1476h2v1h-2zM745 1476h2v1h-2zM631 1477h2v1h-2zM672 1477h2v1h-2zM627 1478h2v1h-2zM749 1481h2v1h-2zM682 1484h2v1h-2zM663 1485h2v1h-2zM686 1485h2v1h-2zM548 1486h2v1h-2zM656 1487h2v1h-2zM600 1488h2v1h-2zM731 1488h2v1h-2zM590 1489h2v1h-2zM728 1489h2v1h-2zM748 1489h2v1h-2zM632 1491h2v1h-2zM657 1492h2v1h-2zM628 1493h2v1h-2zM690 1493h2v1h-2zM630 1494h2v1h-2zM746 1494h2v1h-2zM548 1495h2v1h-2zM749 1495h2v1h-2zM651 1496h2v1h-2zM547 1497h2v1h-2zM623 1497h2v1h-2zM655 1499h2v1h-2zM518 1500h2v1h-2zM651 1500h2v1h-2zM691 1501h2v1h-2zM658 1502h2v1h-2zM565 1503h2v1h-2zM570 1503h2v1h-2zM604 1503h2v1h-2zM628 1503h2v1h-2zM632 1503h2v1h-2zM523 1504h2v1h-2zM575 1505h2v1h-2zM585 1505h2v1h-2zM687 1505h2v1h-2zM513 1506h2v1h-2zM518 1507h2v1h-2zM549 1507h2v1h-2zM750 1507h2v1h-2zM523 1508h2v1h-2zM514 1510h2v1h-2zM580 1510h2v1h-2zM513 1511h2v1h-2zM636 1511h2v1h-2zM652 1511h2v1h-2zM695 1512h2v1h-2zM691 1513h2v1h-2zM753 1513h3v1h-3zM519 1514h2v1h-2zM543 1514h2v1h-2zM560 1514h2v1h-2zM550 1515h2v1h-2zM700 1515h2v1h-2zM724 1515h3v1h-3zM751 1516h2v1h-2zM528 1517h2v1h-2zM653 1517h2v1h-2zM509 1518h2v1h-2zM524 1518h2v1h-2zM633 1518h4v1h-4zM694 1518h2v1h-2zM726 1518h2v1h-2zM609 1519h2v1h-2zM695 1519h2v1h-2zM527 1520h2v1h-2zM544 1520h2v1h-2zM508 1521h2v1h-2zM542 1521h2v1h-2zM726 1521h2v1h-2zM515 1522h2v1h-2zM614 1522h2v1h-2zM637 1522h2v1h-2zM699 1522h2v1h-2zM509 1524h2v1h-2zM520 1524h2v1h-2zM700 1524h2v1h-2zM595 1526h2v1h-2zM755 1526h2v1h-2zM619 1527h2v1h-2zM692 1527h2v1h-2zM719 1527h2v1h-2zM529 1528h2v1h-2zM696 1528h2v1h-2zM705 1528h2v1h-2zM533 1529h2v1h-2zM544 1529h2v1h-2zM590 1529h2v1h-2zM637 1529h2v1h-2zM646 1529h2v1h-2zM525 1530h2v1h-2zM646 1530h2v1h-2zM723 1530h2v1h-2zM532 1531h2v1h-2zM555 1531h2v1h-2zM600 1531h2v1h-2zM647 1531h2v1h-2zM701 1531h2v1h-2zM516 1532h2v1h-2zM641 1532h2v1h-2zM709 1532h2v1h-2zM758 1532h2v1h-2zM510 1533h2v1h-2zM520 1533h2v1h-2zM720 1533h2v1h-2zM504 1534h2v1h-2zM714 1534h2v1h-2zM545 1535h2v1h-2zM645 1535h2v1h-2zM704 1535h2v1h-2zM719 1535h2v1h-2zM503 1536h2v1h-2zM697 1536h2v1h-2zM705 1536h2v1h-2zM756 1536h4v1h-4zM504 1537h2v1h-2zM530 1537h2v1h-2zM538 1537h2v1h-2zM566 1537h2v1h-2zM571 1538h2v1h-2zM586 1538h2v1h-2zM640 1538h4v1h-4zM648 1538h2v1h-2zM715 1538h2v1h-2zM721 1538h2v1h-2zM537 1539h2v1h-2zM709 1539h2v1h-2zM511 1540h2v1h-2zM534 1540h2v1h-2zM605 1540h2v1h-2zM638 1540h2v1h-2zM702 1540h2v1h-2zM710 1540h2v1h-2zM525 1541h2v1h-2zM576 1541h2v1h-2zM706 1541h2v1h-2zM561 1542h2v1h-2zM624 1542h2v1h-2zM714 1542h4v1h-4zM539 1543h2v1h-2zM581 1543h2v1h-2zM505 1544h2v1h-2zM616 1544h2v1h-2zM711 1544h2v1h-2zM754 1544h2v1h-2zM759 1544h2v1h-2zM614 1545h2v1h-2zM721 1545h2v1h-2zM499 1546h2v1h-2zM530 1547h2v1h-2zM534 1547h2v1h-2zM707 1547h2v1h-2zM539 1548h2v1h-2zM610 1548h2v1h-2zM716 1548h2v1h-2zM278 1549h2v1h-2zM283 1549h2v1h-2zM498 1549h2v1h-2zM643 1549h2v1h-2zM279 1550h2v1h-2zM499 1550h2v1h-2zM506 1550h2v1h-2zM551 1550h2v1h-2zM712 1550h2v1h-2zM615 1551h2v1h-2zM273 1552h2v1h-2zM284 1552h2v1h-2zM362 1552h2v1h-2zM556 1552h2v1h-2zM760 1552h2v1h-2zM274 1553h2v1h-2zM288 1554h2v1h-2zM357 1554h2v1h-2zM540 1554h2v1h-2zM269 1555h2v1h-2zM275 1555h2v1h-2zM620 1555h2v1h-2zM269 1556h2v1h-2zM278 1556h2v1h-2zM283 1556h2v1h-2zM357 1556h2v1h-2zM362 1556h2v1h-2zM494 1556h2v1h-2zM500 1556h2v1h-2zM737 1556h2v1h-2zM289 1557h2v1h-2zM293 1557h2v1h-2zM352 1557h2v1h-2zM367 1557h2v1h-2zM264 1558h2v1h-2zM270 1558h2v1h-2zM273 1558h2v1h-2zM493 1558h2v1h-2zM742 1558h2v1h-2zM254 1559h2v1h-2zM276 1559h2v1h-2zM287 1559h2v1h-2zM290 1559h2v1h-2zM347 1559h2v1h-2zM353 1559h2v1h-2zM358 1559h2v1h-2zM361 1559h4v1h-4zM367 1559h2v1h-2zM495 1559h2v1h-2zM501 1559h2v1h-2zM535 1559h2v1h-2zM668 1559h2v1h-2zM673 1559h2v1h-2zM678 1559h2v1h-2zM259 1560h2v1h-2zM264 1560h2v1h-2zM663 1560h2v1h-2zM732 1560h2v1h-2zM761 1560h2v1h-2zM244 1561h2v1h-2zM249 1561h3v1h-3zM255 1561h2v1h-2zM265 1561h2v1h-2zM268 1561h2v1h-2zM294 1561h2v1h-2zM348 1561h2v1h-2zM353 1561h2v1h-2zM356 1561h2v1h-2zM366 1561h2v1h-2zM371 1561h2v1h-2zM516 1561h2v1h-2zM546 1561h2v1h-2zM255 1562h2v1h-2zM259 1562h2v1h-2zM271 1562h2v1h-2zM342 1562h3v1h-3zM364 1562h2v1h-2zM495 1562h2v1h-2zM511 1562h2v1h-2zM521 1562h2v1h-2zM683 1562h2v1h-2zM245 1563h2v1h-2zM290 1563h2v1h-2zM294 1563h2v1h-2zM298 1563h2v1h-2zM348 1563h2v1h-2zM359 1563h2v1h-2zM368 1563h2v1h-2zM372 1563h2v1h-2zM526 1563h2v1h-2zM733 1563h2v1h-2zM250 1564h2v1h-2zM260 1564h2v1h-2zM263 1564h2v1h-2zM266 1564h2v1h-2zM280 1564h2v1h-2zM292 1564h2v1h-2zM354 1564h2v1h-2zM551 1564h2v1h-2zM747 1564h2v1h-2zM239 1565h3v1h-3zM245 1565h2v1h-2zM248 1565h2v1h-2zM253 1565h2v1h-2zM256 1565h4v1h-4zM276 1565h2v1h-2zM285 1565h2v1h-2zM299 1565h2v1h-2zM343 1565h2v1h-2zM346 1565h2v1h-2zM496 1565h2v1h-2zM658 1565h2v1h-2zM261 1566h2v1h-2zM303 1566h2v1h-2zM369 1566h6v1h-6zM376 1566h2v1h-2zM489 1566h3v1h-3zM629 1566h2v1h-2zM688 1566h2v1h-2zM241 1567h4v1h-4zM246 1567h2v1h-2zM251 1567h2v1h-2zM295 1567h6v1h-6zM337 1567h2v1h-2zM341 1567h2v1h-2zM344 1567h2v1h-2zM488 1567h2v1h-2zM506 1567h2v1h-2zM531 1567h2v1h-2zM271 1568h2v1h-2zM286 1568h2v1h-2zM338 1568h2v1h-2zM360 1568h2v1h-2zM490 1568h2v1h-2zM727 1568h2v1h-2zM291 1569h2v1h-2zM339 1569h2v1h-2zM355 1569h2v1h-2zM364 1569h2v1h-2zM377 1569h2v1h-2zM653 1569h2v1h-2zM737 1569h2v1h-2zM238 1570h2v1h-2zM241 1570h2v1h-2zM266 1570h2v1h-2zM300 1570h6v1h-6zM339 1570h2v1h-2zM374 1570h4v1h-4zM455 1570h2v1h-2zM460 1570h2v1h-2zM634 1570h2v1h-2zM679 1570h2v1h-2zM751 1570h2v1h-2zM257 1571h2v1h-2zM304 1571h2v1h-2zM308 1571h2v1h-2zM332 1571h3v1h-3zM336 1571h2v1h-2zM350 1571h2v1h-2zM369 1571h2v1h-2zM381 1571h2v1h-2zM450 1571h2v1h-2zM460 1571h2v1h-2zM491 1571h2v1h-2zM541 1571h2v1h-2zM546 1571h2v1h-2zM669 1571h2v1h-2zM674 1571h2v1h-2zM733 1571h2v1h-2zM742 1571h2v1h-2zM234 1572h3v1h-3zM247 1572h2v1h-2zM252 1572h2v1h-2zM262 1572h2v1h-2zM277 1572h2v1h-2zM280 1572h4v1h-4zM296 1572h2v1h-2zM308 1572h2v1h-2zM327 1572h2v1h-2zM345 1572h2v1h-2zM456 1572h2v1h-2zM464 1572h3v1h-3zM474 1572h2v1h-2zM479 1572h2v1h-2zM484 1572h2v1h-2zM502 1572h2v1h-2zM512 1572h2v1h-2zM517 1572h2v1h-2zM522 1572h2v1h-2zM664 1572h2v1h-2zM684 1572h2v1h-2zM693 1572h2v1h-2zM236 1573h2v1h-2zM272 1573h2v1h-2zM287 1573h2v1h-2zM305 1573h4v1h-4zM322 1573h2v1h-2zM334 1573h2v1h-2zM378 1573h2v1h-2zM381 1573h3v1h-3zM450 1573h3v1h-3zM454 1573h2v1h-2zM459 1573h4v1h-4zM466 1573h2v1h-2zM469 1573h2v1h-2zM475 1573h2v1h-2zM480 1573h2v1h-2zM485 1573h2v1h-2zM536 1573h2v1h-2zM625 1573h2v1h-2zM649 1573h2v1h-2zM659 1573h2v1h-2zM689 1573h2v1h-2zM236 1574h2v1h-2zM242 1574h2v1h-2zM267 1574h2v1h-2zM281 1574h2v1h-2zM301 1574h2v1h-2zM309 1574h2v1h-2zM313 1574h2v1h-2zM323 1574h2v1h-2zM328 1574h3v1h-3zM332 1574h2v1h-2zM340 1574h2v1h-2zM360 1574h2v1h-2zM374 1574h2v1h-2zM457 1574h2v1h-2zM462 1574h4v1h-4zM470 1574h2v1h-2zM481 1574h2v1h-2zM527 1574h2v1h-2zM650 1574h2v1h-2zM698 1574h2v1h-2zM756 1574h2v1h-2zM285 1575h2v1h-2zM292 1575h2v1h-2zM312 1575h2v1h-2zM318 1575h2v1h-2zM324 1575h2v1h-2zM327 1575h2v1h-2zM349 1575h4v1h-4zM355 1575h2v1h-2zM365 1575h2v1h-2zM383 1575h2v1h-2zM449 1575h2v1h-2zM452 1575h2v1h-2zM469 1575h4v1h-4zM474 1575h6v1h-6zM483 1575h2v1h-2zM486 1575h2v1h-2zM507 1575h2v1h-2zM541 1575h2v1h-2zM639 1575h2v1h-2zM642 1575h2v1h-2zM702 1575h2v1h-2zM722 1575h2v1h-2zM747 1575h2v1h-2zM234 1576h2v1h-2zM237 1576h2v1h-2zM252 1576h2v1h-2zM257 1576h2v1h-2zM262 1576h2v1h-2zM297 1576h2v1h-2zM310 1576h2v1h-2zM314 1576h2v1h-2zM322 1576h2v1h-2zM329 1576h2v1h-2zM335 1576h2v1h-2zM346 1576h2v1h-2zM350 1576h2v1h-2zM467 1576h2v1h-2zM471 1576h2v1h-2zM476 1576h2v1h-2zM481 1576h2v1h-2zM497 1576h2v1h-2zM532 1576h2v1h-2zM630 1576h2v1h-2zM644 1576h2v1h-2zM654 1576h2v1h-2zM688 1576h2v1h-2zM707 1576h2v1h-2zM728 1576h2v1h-2zM243 1577h2v1h-2zM248 1577h2v1h-2zM306 1577h2v1h-2zM315 1577h7v1h-7zM325 1577h2v1h-2zM341 1577h2v1h-2zM370 1577h2v1h-2zM379 1577h2v1h-2zM383 1577h2v1h-2zM386 1577h2v1h-2zM445 1577h3v1h-3zM453 1577h2v1h-2zM457 1577h2v1h-2zM462 1577h2v1h-2zM537 1577h2v1h-2zM712 1577h2v1h-2zM717 1577h2v1h-2zM752 1577h2v1h-2zM229 1578h4v1h-4zM301 1578h2v1h-2zM330 1578h2v1h-2zM375 1578h2v1h-2zM447 1578h2v1h-2zM467 1578h2v1h-2zM472 1578h2v1h-2zM477 1578h2v1h-2zM482 1578h2v1h-2zM492 1578h2v1h-2zM502 1578h2v1h-2zM635 1578h2v1h-2zM649 1578h2v1h-2zM693 1578h2v1h-2zM92 1579h2v1h-2zM238 1579h2v1h-2zM311 1579h2v1h-2zM320 1579h2v1h-2zM325 1579h2v1h-2zM336 1579h2v1h-2zM378 1579h2v1h-2zM384 1579h2v1h-2zM387 1579h3v1h-3zM444 1579h2v1h-2zM698 1579h2v1h-2zM87 1580h9v1h-9zM97 1580h2v1h-2zM232 1580h2v1h-2zM306 1580h2v1h-2zM315 1580h2v1h-2zM331 1580h2v1h-2zM380 1580h2v1h-2zM391 1580h3v1h-3zM440 1580h3v1h-3zM448 1580h2v1h-2zM453 1580h2v1h-2zM458 1580h2v1h-2zM463 1580h2v1h-2zM497 1580h2v1h-2zM639 1580h2v1h-2zM644 1580h2v1h-2zM703 1580h2v1h-2zM723 1580h2v1h-2zM757 1580h2v1h-2zM761 1580h2v1h-2zM89 1581h2v1h-2zM94 1581h6v1h-6zM229 1581h2v1h-2zM233 1581h2v1h-2zM311 1581h2v1h-2zM321 1581h2v1h-2zM326 1581h2v1h-2zM388 1581h6v1h-6zM442 1581h2v1h-2zM448 1581h2v1h-2zM468 1581h2v1h-2zM473 1581h2v1h-2zM478 1581h2v1h-2zM483 1581h2v1h-2zM487 1581h2v1h-2zM492 1581h2v1h-2zM708 1581h2v1h-2zM713 1581h2v1h-2zM718 1581h2v1h-2zM84 1582h2v1h-2zM87 1582h2v1h-2zM90 1582h2v1h-2zM98 1582h2v1h-2zM102 1582h2v1h-2zM224 1582h5v1h-5zM316 1582h2v1h-2zM385 1582h2v1h-2zM389 1582h2v1h-2zM393 1582h2v1h-2zM396 1582h2v1h-2zM430 1582h2v1h-2zM435 1582h3v1h-3zM439 1582h2v1h-2zM443 1582h2v1h-2zM82 1583h5v1h-5zM91 1583h2v1h-2zM95 1583h2v1h-2zM103 1583h2v1h-2zM215 1583h2v1h-2zM220 1583h3v1h-3zM224 1583h2v1h-2zM227 1583h2v1h-2zM390 1583h2v1h-2zM394 1583h5v1h-5zM425 1583h15v1h-15zM443 1583h2v1h-2zM488 1583h2v1h-2zM762 1583h1v1h-1zM82 1584h2v1h-2zM86 1584h2v1h-2zM96 1584h2v1h-2zM99 1584h4v1h-4zM104 1584h6v1h-6zM190 1584h8v1h-8zM199 1584h22v1h-22zM222 1584h2v1h-2zM228 1584h2v1h-2zM395 1584h2v1h-2zM398 1584h6v1h-6zM406 1584h2v1h-2zM420 1584h4v1h-4zM425 1584h2v1h-2zM428 1584h2v1h-2zM433 1584h3v1h-3zM439 1584h2v1h-2z" fill="#c8b468" fill-opacity="0.38" shape-rendering="crispEdges"/><rect x="763" y="1544" width="2" height="12" fill="#dc960a" shape-rendering="crispEdges"/><rect x="761" y="1555" width="3" height="2" fill="#dc960a" shape-rendering="crispEdges"/><rect x="764" y="1556" width="2" height="31" fill="#dc960a" shape-rendering="crispEdges"/><line x1="72.5" x2="72.5" y1="1188" y2="1586" class="a"/><line x1="72" x2="765" y1="1586.5" y2="1586.5" class="a2"/><line x1="157.5" x2="157.5" y1="1587" y2="1592" class="a"/><line x1="286.5" x2="286.5" y1="1587" y2="1592" class="a"/><line x1="412.5" x2="412.5" y1="1587" y2="1592" class="a"/><line x1="541.5" x2="541.5" y1="1587" y2="1592" class="a"/><line x1="668.5" x2="668.5" y1="1587" y2="1592" class="a"/><rect x="72" y="1174" width="692" height="16" fill="#ffffff" fill-opacity="0.055"/><circle cx="72.0" cy="1180.9" r="9.1" fill="#fff"/><path d="M70.4 1176v10M73.6 1176v10" stroke="#9a9a9a" stroke-width="0.9" fill="none"/><circle cx="763.8" cy="1180.9" r="9.1" fill="#fff"/><path d="M762.1999999999999 1176v10M765.4 1176v10" stroke="#9a9a9a" stroke-width="0.9" fill="none"/><circle cx="314" cy="1640" r="8" fill="#004da8"/><circle cx="436" cy="1640" r="8" fill="#ffaa00"/></svg>
<h2 class="ttl">
<div class="t" style="left:178.30px;top:1123.68px;font-size:15.26px;color:#ffffff;font-weight:700;-webkit-text-stroke:0.09px #2b2b2b;transform:scaleX(1.0374);">COVID-19-Fälle/Tag nach</div>
<div class="t" style="left:370.70px;top:1123.68px;font-size:15.26px;color:#ffffff;font-weight:700;-webkit-text-stroke:0.09px #2b2b2b;transform:scaleX(1.0659);">Meldedatum</div>
<div class="b" style="left:370.5px;top:1139px;width:95.5px;height:1px;background:#ffffff;"></div>
<div class="t" style="left:469.90px;top:1123.68px;font-size:15.26px;color:#ffffff;font-weight:700;-webkit-text-stroke:0.09px #2b2b2b;transform:scaleX(1.0174);">(siehe Erläuterung)</div>
</h2>
<div class="t" style="left:54.16px;top:1581.19px;font-size:11.00px;color:#f4f4f4;transform:scaleX(1.0200);">0</div>
<div class="t" style="left:26.08px;top:1524.36px;font-size:11.00px;color:#f4f4f4;transform:scaleX(1.0200);">50.000</div>
<div class="t" style="left:19.84px;top:1467.53px;font-size:11.00px;color:#f4f4f4;transform:scaleX(1.0200);">100.000</div>
<div class="t" style="left:19.84px;top:1410.70px;font-size:11.00px;color:#f4f4f4;transform:scaleX(1.0200);">150.000</div>
<div class="t" style="left:19.84px;top:1353.87px;font-size:11.00px;color:#f4f4f4;transform:scaleX(1.0200);">200.000</div>
<div class="t" style="left:19.84px;top:1297.05px;font-size:11.00px;color:#f4f4f4;transform:scaleX(1.0200);">250.000</div>
<div class="t" style="left:19.84px;top:1240.22px;font-size:11.00px;color:#f4f4f4;transform:scaleX(1.0200);">300.000</div>
<div class="t" style="left:19.84px;top:1183.39px;font-size:11.00px;color:#f4f4f4;transform:scaleX(1.0200);">350.000</div>
<div class="t" style="left:160.50px;top:1595.59px;font-size:11.00px;color:#f0f0f0;transform:scaleX(0.9674);">Jul</div>
<div class="t" style="left:289.30px;top:1595.59px;font-size:11.00px;color:#f0f0f0;font-weight:700;transform:scaleX(1.0215);">2021</div>
<div class="t" style="left:414.80px;top:1595.59px;font-size:11.00px;color:#f0f0f0;transform:scaleX(1.0172);">Jul</div>
<div class="t" style="left:544.00px;top:1595.59px;font-size:11.00px;color:#f0f0f0;font-weight:700;transform:scaleX(1.0950);">2022</div>
<div class="t" style="left:671.50px;top:1595.59px;font-size:11.00px;color:#f0f0f0;transform:scaleX(0.9959);">Jul</div>
<div class="t" style="left:326.00px;top:1635.69px;font-size:11.00px;color:#f0f0f0;transform:scaleX(1.0567);">Zuvor übermittelt</div>
<div class="t" style="left:448.80px;top:1635.69px;font-size:11.00px;color:#f0f0f0;transform:scaleX(1.0618);">Neu übermittelt</div>
<div class="t" style="left:339.90px;top:1678.00px;font-size:13.00px;color:#ffffff;transform:scaleX(0.9566);">Fälle/Tag (Meldung)</div>
<svg class="b" style="left:16px;top:1679px" width="8" height="12" viewBox="0 0 8 12"><path d="M0.9 6 L6.1 0.9 L6.1 11.1 Z" fill="#fff"/></svg>
<svg class="b" style="left:765px;top:1679px;z-index:3" width="8" height="12" viewBox="0 0 8 12"><path d="M7.2 6 L2.0 0.9 L2.0 11.1 Z" fill="#fff"/></svg>
</body>
</html>
